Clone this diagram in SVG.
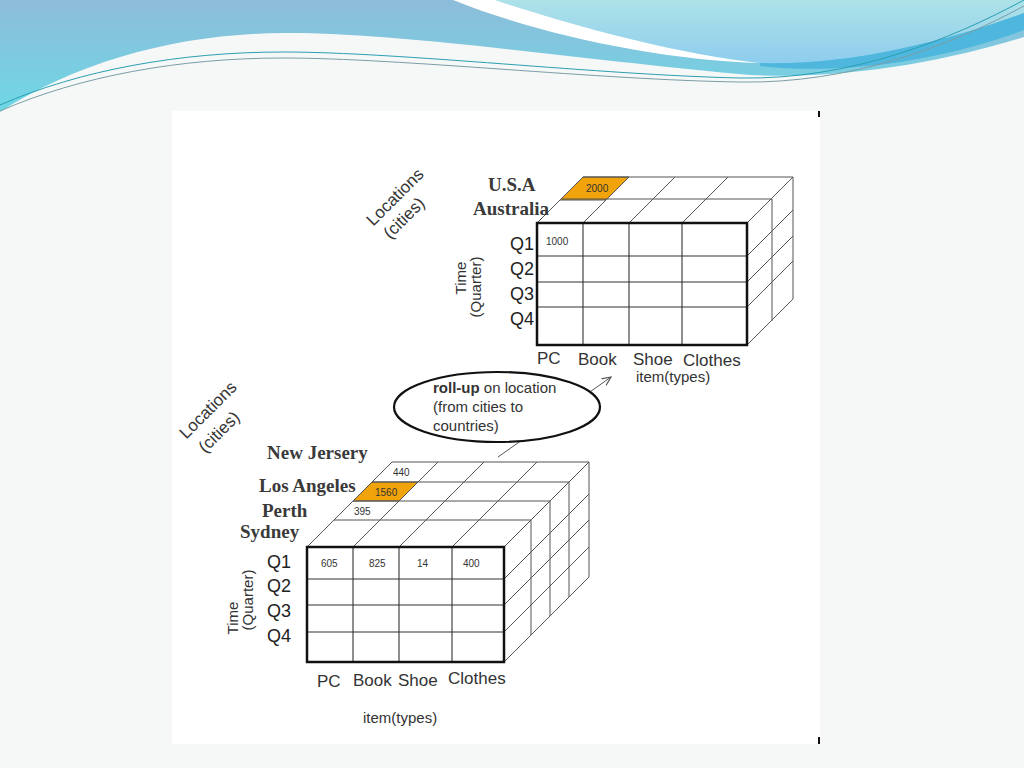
<svg xmlns="http://www.w3.org/2000/svg" width="1024" height="768" viewBox="0 0 1024 768">
<defs>
<linearGradient id="gBlue" x1="0" y1="0" x2="0" y2="1">
<stop offset="0" stop-color="#8dbcd9"/>
<stop offset="1" stop-color="#6ed8e6"/>
</linearGradient>
<linearGradient id="gLight" x1="0" y1="0" x2="0" y2="1">
<stop offset="0" stop-color="#ade2e8"/>
<stop offset="1" stop-color="#8ecdee"/>
</linearGradient>
<marker id="arr" viewBox="0 0 10 10" refX="9" refY="5" markerWidth="10" markerHeight="10" orient="auto" markerUnits="userSpaceOnUse">
<path d="M0,1 L9,5 L0,9" fill="none" stroke="#555" stroke-width="1.2"/>
</marker>
<style>
.thick{fill:none;stroke:#111;stroke-width:2.5}
.in{fill:none;stroke:#333;stroke-width:1.1}
.g{fill:none;stroke:#555;stroke-width:1}
.ser{font-family:"Liberation Serif",serif;font-weight:bold;font-size:19px;fill:#3a3a3a}
.q{font-family:"Liberation Sans",sans-serif;font-size:18px;fill:#222}
.it{font-family:"Liberation Sans",sans-serif;font-size:17px;fill:#333}
.sm{font-family:"Liberation Sans",sans-serif;font-size:15px;fill:#333}
.lab{font-family:"Liberation Sans",sans-serif;font-size:17px;fill:#333;text-anchor:middle}
.tq{font-family:"Liberation Sans",sans-serif;font-size:15px;fill:#333;text-anchor:middle}
.num{font-family:"Liberation Sans",sans-serif;font-size:10px;fill:#333}
.el{font-family:"Liberation Sans",sans-serif;font-size:15px;fill:#333}
.orange{fill:#f0a30a;stroke:#555;stroke-width:1}
</style>
</defs>

<!-- background -->
<rect x="0" y="0" width="1024" height="768" fill="#f6f7f7"/>
<g id="header">
<path d="M0,0 L1024,0 L1024,37 C950,60 850,80 750,75 C600,62 400,32 283,33 C180,34 80,60 0,112 Z" fill="url(#gBlue)"/>
<path d="M495,0 C570,25 680,55 760,63 C850,66 950,40 1024,13 L1024,0 Z" fill="url(#gLight)"/>
<path d="M453,0 C540,35 660,60 760,63 C680,55 570,25 495,0 Z" fill="#ffffff"/>
<path d="M760,63 C850,66 950,40 1024,13 L1024,30 C950,58 850,76 760,66 Z" fill="#4fb7de"/>
<path d="M0,105 C80,70 180,52 283,52 C400,52 600,75 740,78 C850,80 950,40 1024,0" fill="none" stroke="#2a9fb2" stroke-width="1"/>
<path d="M0,111 C80,76 180,58 283,58 C400,58 600,80 740,82 C850,84 950,46 1024,6" fill="none" stroke="#7a9ea6" stroke-width="1"/>
</g>

<rect x="172" y="111" width="648" height="633" fill="#ffffff"/>
<line x1="819" y1="111" x2="819" y2="117" stroke="#111" stroke-width="2"/>
<line x1="819" y1="737" x2="819" y2="744" stroke="#111" stroke-width="2"/>

<!-- connector -->
<g id="connectors">
<line x1="498" y1="457" x2="611" y2="377" stroke="#555" stroke-width="1" marker-end="url(#arr)"/>
</g>

<!-- top cube -->
<g id="cube-top">
<polygon class="orange" points="560,200 606,200 629,177 583,177"/>
<g class="g">
<line x1="562" y1="199" x2="772" y2="199"/>
<line x1="583" y1="177" x2="793" y2="177"/>
<line x1="537" y1="223" x2="583" y2="177"/>
<line x1="583" y1="223" x2="629" y2="177"/>
<line x1="629" y1="223" x2="675" y2="177"/>
<line x1="682" y1="223" x2="728" y2="177"/>
<line x1="747" y1="223" x2="793" y2="177"/>
<line x1="772" y1="199" x2="772" y2="321"/>
<line x1="793" y1="177" x2="793" y2="299"/>
<line x1="747" y1="256" x2="793" y2="210"/>
<line x1="747" y1="282" x2="793" y2="236"/>
<line x1="747" y1="307" x2="793" y2="261"/>
<line x1="747" y1="345" x2="793" y2="299"/>
</g>
<g class="in">
<line x1="583" y1="223" x2="583" y2="345"/>
<line x1="629" y1="223" x2="629" y2="345"/>
<line x1="682" y1="223" x2="682" y2="345"/>
<line x1="537" y1="256" x2="747" y2="256"/>
<line x1="537" y1="282" x2="747" y2="282"/>
<line x1="537" y1="307" x2="747" y2="307"/>
</g>
<rect class="thick" x="537" y="223" width="210" height="122"/>
<text class="num" x="586" y="192" font-size="9">2000</text>
<text class="num" x="546" y="245">1000</text>
<text class="ser" x="488" y="191">U.S.A</text>
<text class="ser" x="473" y="215">Australia</text>
<text class="q" x="510" y="250">Q1</text>
<text class="q" x="510" y="275">Q2</text>
<text class="q" x="510" y="300">Q3</text>
<text class="q" x="510" y="325">Q4</text>
<text class="it" x="537" y="364">PC</text>
<text class="it" x="578" y="365">Book</text>
<text class="it" x="633" y="365">Shoe</text>
<text class="it" x="683" y="366">Clothes</text>
<text class="sm" x="636" y="382">item(types)</text>
<text class="lab" transform="translate(399,201) rotate(-45)">Locations</text>
<text class="lab" transform="translate(408,222) rotate(-45)">(cities)</text>
<text class="tq" transform="translate(466,278) rotate(-90)">Time</text>
<text class="tq" transform="translate(481,287) rotate(-90)">(Quarter)</text>
</g>

<!-- roll-up ellipse -->
<g id="rollup">
<ellipse cx="497" cy="407" rx="103" ry="35" fill="#ffffff" stroke="#111" stroke-width="2.2"/>
<text class="el" x="433" y="393"><tspan font-weight="bold">roll-up</tspan> on location</text>
<text class="el" x="433" y="412">(from cities to</text>
<text class="el" x="433" y="431">countries)</text>
</g>

<!-- bottom cube -->
<g id="cube-bottom">
<polygon class="orange" points="353,501 399,501 418,482 372,482"/>
<g class="g">
<line x1="334" y1="520" x2="531" y2="520"/>
<line x1="353" y1="501" x2="550" y2="501"/>
<line x1="372" y1="482" x2="569" y2="482"/>
<line x1="392" y1="462" x2="589" y2="462"/>
<line x1="307" y1="547" x2="392" y2="462"/>
<line x1="353" y1="547" x2="438" y2="462"/>
<line x1="399" y1="547" x2="484" y2="462"/>
<line x1="452" y1="547" x2="537" y2="462"/>
<line x1="504" y1="547" x2="589" y2="462"/>
<line x1="531" y1="520" x2="531" y2="635"/>
<line x1="550" y1="501" x2="550" y2="616"/>
<line x1="569" y1="482" x2="569" y2="597"/>
<line x1="589" y1="462" x2="589" y2="577"/>
<line x1="504" y1="579" x2="589" y2="494"/>
<line x1="504" y1="605" x2="589" y2="520"/>
<line x1="504" y1="632" x2="589" y2="547"/>
<line x1="504" y1="662" x2="589" y2="577"/>
</g>
<g class="in">
<line x1="353" y1="547" x2="353" y2="662"/>
<line x1="399" y1="547" x2="399" y2="662"/>
<line x1="452" y1="547" x2="452" y2="662"/>
<line x1="307" y1="579" x2="504" y2="579"/>
<line x1="307" y1="605" x2="504" y2="605"/>
<line x1="307" y1="632" x2="504" y2="632"/>
</g>
<rect class="thick" x="307" y="547" width="197" height="115"/>
<text class="num" x="393" y="476">440</text>
<text class="num" x="375" y="496">1560</text>
<text class="num" x="354" y="515">395</text>
<text class="num" x="321" y="567">605</text>
<text class="num" x="369" y="567">825</text>
<text class="num" x="417" y="567">14</text>
<text class="num" x="463" y="567">400</text>
<text class="ser" x="267" y="459">New Jersery</text>
<text class="ser" x="259" y="492">Los Angeles</text>
<text class="ser" x="262" y="517">Perth</text>
<text class="ser" x="240" y="538">Sydney</text>
<text class="q" x="267" y="568">Q1</text>
<text class="q" x="267" y="592">Q2</text>
<text class="q" x="267" y="617">Q3</text>
<text class="q" x="267" y="642">Q4</text>
<text class="it" x="317" y="687">PC</text>
<text class="it" x="353" y="686">Book</text>
<text class="it" x="398" y="686">Shoe</text>
<text class="it" x="448" y="684">Clothes</text>
<text class="sm" x="363" y="723">item(types)</text>
<text class="lab" transform="translate(212,414) rotate(-45)">Locations</text>
<text class="lab" transform="translate(223,436) rotate(-45)">(cities)</text>
<text class="tq" transform="translate(238,618) rotate(-90)">Time</text>
<text class="tq" transform="translate(253,600) rotate(-90)">(Quarter)</text>
</g>
</svg>
